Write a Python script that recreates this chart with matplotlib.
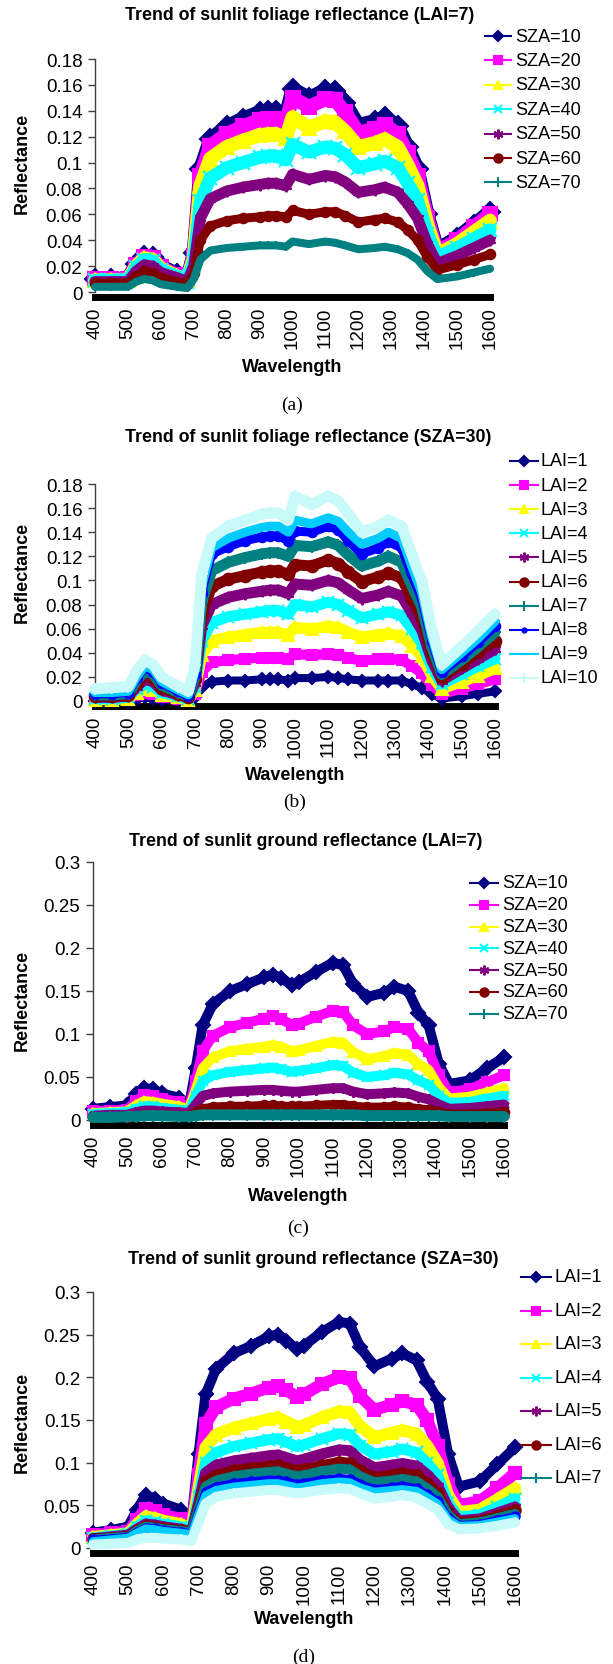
import matplotlib
matplotlib.use("Agg")
import matplotlib.pyplot as plt
from matplotlib.lines import Line2D
from matplotlib.ticker import FuncFormatter

plt.rcParams['font.family'] = ['Liberation Sans', 'DejaVu Sans']

# ---------------- data ----------------
wavelength = [400, 450, 500, 525, 550, 575, 600, 650, 680, 700, 720, 750, 800, 850, 900, 925, 950, 980,
              1000, 1050, 1100, 1130, 1160, 1200, 1250, 1280, 1320, 1350, 1380, 1410, 1440, 1500, 1550, 1600]
x_ticks = [400, 500, 600, 700, 800, 900, 1000, 1100, 1200, 1300, 1400, 1500, 1600]

sza_labels = ['SZA=10', 'SZA=20', 'SZA=30', 'SZA=40', 'SZA=50', 'SZA=60', 'SZA=70']
lai_labels = ['LAI=1', 'LAI=2', 'LAI=3', 'LAI=4', 'LAI=5', 'LAI=6', 'LAI=7', 'LAI=8', 'LAI=9', 'LAI=10']

# (a) sunlit foliage reflectance, LAI=7
a_sza10 = [.010, .010, .010, .022, .028, .027, .020, .014, .010, .030, .095, .118, .128, .134, .139, .140, .140, .137,
           .157, .150, .156, .155, .146, .129, .132, .135, .128, .112, .095, .060, .033, .042, .052, .062]
a_sza20 = [.010, .010, .010, .021, .027, .026, .019, .013, .009, .028, .090, .113, .122, .128, .133, .134, .134, .131,
           .150, .143, .149, .148, .139, .123, .126, .129, .122, .107, .090, .057, .031, .040, .050, .060]
a_sza30 = [.009, .009, .009, .020, .026, .025, .018, .012, .009, .026, .082, .103, .112, .117, .121, .122, .122, .119,
           .135, .127, .132, .131, .124, .112, .115, .118, .112, .098, .082, .052, .029, .037, .046, .055]
a_sza40 = [.009, .009, .009, .019, .025, .024, .017, .012, .008, .024, .070, .088, .096, .100, .104, .105, .105, .102,
           .114, .108, .112, .111, .106, .096, .099, .101, .096, .084, .071, .045, .027, .034, .041, .048]
a_sza50 = [.008, .008, .008, .016, .021, .020, .015, .011, .008, .020, .057, .072, .078, .081, .083, .084, .084, .082,
           .091, .087, .090, .089, .085, .077, .079, .081, .077, .068, .057, .037, .022, .028, .034, .040]
a_sza60 = [.007, .007, .007, .012, .016, .015, .011, .008, .006, .015, .040, .051, .055, .057, .058, .059, .059, .058,
           .063, .060, .062, .062, .059, .054, .056, .057, .054, .048, .040, .027, .017, .021, .025, .029]
a_sza70 = [.004, .004, .004, .008, .010, .009, .006, .004, .003, .010, .025, .032, .034, .035, .036, .036, .036, .035,
           .039, .037, .039, .038, .036, .033, .034, .035, .033, .030, .025, .016, .010, .012, .015, .018]

# (b) sunlit foliage reflectance, SZA=30
b_lai1 = [.000, .000, .000, .002, .003, .002, .001, .000, .000, .003, .012, .016, .017, .017, .018, .018, .018, .017,
          .019, .019, .020, .019, .018, .017, .017, .017, .017, .014, .011, .006, .002, .004, .006, .008]
b_lai2 = [.001, .001, .001, .005, .007, .006, .003, .002, .001, .006, .024, .032, .034, .035, .036, .036, .036, .035,
          .039, .038, .039, .038, .036, .033, .035, .035, .034, .029, .023, .013, .006, .010, .014, .018]
b_lai3 = [.001, .001, .002, .007, .010, .009, .005, .003, .001, .009, .038, .050, .053, .055, .057, .057, .057, .055,
          .061, .060, .062, .061, .057, .053, .055, .056, .054, .046, .037, .021, .010, .016, .021, .027]
b_lai4 = [.002, .002, .003, .010, .014, .012, .007, .004, .002, .012, .050, .065, .070, .072, .074, .075, .075, .072,
          .080, .078, .082, .080, .075, .069, .072, .074, .071, .060, .048, .028, .014, .022, .029, .035]
b_lai5 = [.003, .003, .004, .012, .018, .016, .009, .005, .003, .015, .062, .080, .086, .089, .091, .092, .092, .089,
          .097, .096, .100, .098, .092, .085, .088, .091, .087, .073, .059, .034, .017, .027, .035, .043]
b_lai6 = [.004, .004, .005, .015, .022, .019, .011, .006, .003, .018, .072, .095, .101, .104, .107, .108, .108, .105,
          .113, .112, .117, .114, .107, .099, .103, .106, .102, .085, .069, .040, .020, .031, .041, .050]
b_lai7 = [.005, .005, .006, .017, .025, .022, .013, .007, .004, .020, .082, .108, .115, .119, .122, .123, .123, .120,
          .129, .128, .132, .129, .121, .112, .116, .120, .115, .096, .078, .045, .022, .034, .045, .057]
b_lai8 = [.006, .006, .007, .019, .028, .024, .015, .008, .004, .022, .090, .122, .128, .133, .136, .137, .137, .133,
          .141, .140, .145, .142, .133, .122, .127, .132, .127, .105, .085, .050, .024, .037, .049, .062]
b_lai9 = [.007, .007, .008, .020, .029, .026, .016, .009, .005, .025, .095, .127, .135, .140, .144, .145, .145, .140,
          .150, .147, .152, .149, .140, .130, .135, .140, .135, .112, .090, .053, .026, .040, .052, .066]
b_lai10 = [.010, .011, .012, .025, .034, .030, .020, .012, .008, .030, .105, .135, .145, .150, .155, .156, .156, .150,
           .170, .163, .170, .166, .155, .140, .145, .150, .145, .122, .100, .060, .030, .045, .058, .072]

# (c) sunlit ground reflectance, LAI=7
c_sza10 = [.013, .015, .017, .030, .037, .036, .031, .026, .016, .060, .110, .135, .150, .158, .166, .169, .165, .157,
           .160, .172, .183, .180, .158, .143, .148, .155, .150, .125, .110, .065, .042, .046, .060, .073]
c_sza20 = [.010, .011, .012, .022, .029, .028, .025, .021, .014, .045, .080, .098, .108, .113, .118, .121, .117, .111,
           .112, .120, .127, .126, .110, .100, .103, .108, .106, .090, .080, .052, .032, .036, .044, .052]
c_sza30 = [.008, .009, .010, .017, .022, .021, .019, .016, .012, .035, .060, .073, .080, .083, .085, .087, .085, .080,
           .081, .086, .091, .090, .079, .071, .074, .078, .076, .065, .058, .038, .025, .027, .032, .037]
c_sza40 = [.007, .008, .009, .013, .016, .016, .014, .012, .010, .028, .045, .052, .056, .058, .060, .061, .059, .056,
           .057, .060, .064, .063, .055, .050, .052, .055, .053, .046, .041, .028, .020, .021, .025, .028]
c_sza50 = [.005, .006, .006, .009, .011, .011, .010, .009, .008, .018, .028, .031, .033, .034, .035, .035, .034, .033,
           .033, .035, .037, .037, .033, .030, .031, .032, .031, .027, .024, .018, .013, .014, .016, .018]
c_sza60 = [.003, .003, .004, .005, .006, .006, .006, .005, .005, .009, .013, .015, .016, .016, .017, .017, .016, .016,
           .016, .017, .018, .018, .016, .015, .015, .016, .015, .013, .012, .009, .007, .007, .008, .009]
c_sza70 = [.003, .003, .004, .004, .005, .005, .005, .004, .004, .005, .006, .006, .006, .006, .006, .006, .006, .006,
           .006, .006, .006, .006, .006, .005, .005, .005, .005, .005, .005, .005, .004, .004, .004, .004]

# (d) sunlit ground reflectance, SZA=30
d_lai1 = [.018, .021, .025, .045, .062, .058, .052, .045, .033, .110, .180, .210, .228, .237, .248, .250, .243, .233,
          .237, .253, .265, .263, .235, .213, .222, .228, .220, .195, .175, .110, .072, .078, .098, .118]
d_lai2 = [.015, .017, .019, .033, .046, .043, .039, .034, .026, .085, .145, .165, .175, .181, .188, .190, .185, .177,
          .180, .192, .200, .199, .178, .162, .168, .172, .168, .150, .120, .075, .050, .055, .070, .088]
d_lai3 = [.013, .015, .017, .028, .037, .035, .032, .028, .022, .070, .118, .133, .141, .146, .151, .153, .148, .142,
          .144, .153, .160, .159, .143, .130, .135, .138, .134, .120, .100, .062, .042, .045, .057, .070]
d_lai4 = [.012, .014, .016, .025, .032, .030, .028, .025, .020, .060, .100, .112, .119, .123, .127, .128, .124, .119,
          .121, .128, .134, .133, .120, .110, .113, .116, .112, .100, .085, .053, .036, .039, .048, .058]
d_lai5 = [.011, .013, .015, .022, .028, .027, .025, .022, .019, .052, .088, .097, .102, .105, .108, .109, .106, .102,
          .104, .110, .115, .114, .103, .094, .097, .099, .096, .086, .073, .047, .032, .034, .041, .048]
d_lai6 = [.011, .012, .014, .021, .026, .025, .023, .021, .018, .048, .078, .086, .091, .094, .096, .097, .094, .091,
          .092, .097, .101, .100, .091, .083, .086, .088, .085, .076, .065, .042, .030, .032, .038, .044]
d_lai7 = [.010, .012, .013, .020, .025, .024, .022, .020, .018, .045, .072, .079, .084, .087, .089, .090, .087, .084,
          .085, .090, .093, .092, .084, .077, .079, .081, .078, .070, .060, .039, .028, .030, .035, .040]
d_lai8 = [.010, .011, .013, .019, .024, .023, .021, .019, .017, .043, .066, .072, .076, .078, .080, .080, .078, .075,
          .076, .080, .082, .081, .075, .069, .071, .073, .070, .063, .055, .036, .027, .028, .033, .037]
d_lai9 = [.008, .010, .012, .018, .023, .022, .020, .018, .016, .040, .062, .068, .072, .074, .076, .076, .074, .071,
          .072, .076, .078, .077, .071, .066, .068, .069, .067, .060, .052, .034, .026, .027, .031, .035]
d_lai10 = [.004, .005, .006, .010, .012, .012, .011, .010, .008, .030, .052, .060, .064, .066, .068, .068, .066, .064,
           .065, .068, .070, .069, .064, .058, .060, .062, .059, .052, .045, .028, .022, .023, .026, .030]

# ---------------- style ----------------
colors = ['#000080', '#FF00FF', '#FFFF00', '#00FFFF', '#800080', '#800000', '#008080', '#0000FF', '#00CCFF', '#C8FAFA']
markers = ['D', 's', '^', 'x', (6, 2, 0), 'o', '+', 'o', '_', '+']
msizes = [5, 6, 6, 6, 7, 6, 7, 3, 7, 7]

FW, FH = 613.0, 1665.0
fig = plt.figure(figsize=(6.13, 16.65), dpi=100)


def fx(x):
    return x / FW


def fy(y):
    return 1 - y / FH


panels = [
    dict(series=[a_sza10, a_sza20, a_sza30, a_sza40, a_sza50, a_sza60, a_sza70], labels=sza_labels, nleg=7,
         box=(95, 490, 60, 293), ymax=0.18, ystep=0.02, bw=[14, 14, 14, 13, 11, 9, 8],
         title='Trend of sunlit foliage reflectance (LAI=7)', tx=300, ty=16, yl=163, xl=368, cap='(a)', capy=405,
         leg=(485, 511, 515, 37, 24.4)),
    dict(series=[b_lai1, b_lai2, b_lai3, b_lai4, b_lai5, b_lai6, b_lai7, b_lai8, b_lai9, b_lai10], labels=lai_labels,
         nleg=10, box=(95, 495, 485, 702), ymax=0.18, ystep=0.02, bw=[8, 10, 11, 11, 11, 11, 11, 9, 9, 11],
         title='Trend of sunlit foliage reflectance (SZA=30)', tx=308, ty=438, yl=572, xl=775, cap='(b)', capy=802,
         leg=(510, 538, 541, 462, 24.1)),
    dict(series=[c_sza10, c_sza20, c_sza30, c_sza40, c_sza50, c_sza60, c_sza70], labels=sza_labels, nleg=7,
         box=(93, 504, 863, 1121), ymax=0.3, ystep=0.05, bw=[10, 10, 10, 10, 10, 9, 11],
         title='Trend of sunlit ground reflectance (LAI=7)', tx=306, ty=842, yl=1000, xl=1197, cap='(c)', capy=1228,
         leg=(470, 498, 502, 884, 21.8)),
    dict(series=[d_lai1, d_lai2, d_lai3, d_lai4, d_lai5, d_lai6, d_lai7, d_lai8, d_lai9, d_lai10], labels=lai_labels,
         nleg=7, box=(93, 515, 1293, 1549), ymax=0.3, ystep=0.05, bw=[10, 12, 12, 11, 11, 10, 10, 8, 8, 10],
         title='Trend of sunlit ground reflectance (SZA=30)', tx=313, ty=1260, yl=1422, xl=1620, cap='(d)', capy=1657,
         leg=(521, 551, 555, 1278, 33.5)),
]

for p in panels:
    left, right, top, bottom = p['box']
    ax = fig.add_axes([fx(left), fy(bottom), (right - left) / FW, (bottom - top) / FH])
    for vals, col, bw, mk in zip(p['series'], colors, p['bw'], markers):
        ax.plot(wavelength, vals, color=col, lw=bw * 0.72, solid_joinstyle='round', solid_capstyle='round',
                marker=mk, ms=bw * 0.72 * 1.05, mfc=col, mec=col, mew=1.5,
                zorder=3, clip_on=False)
    ax.set_xlim(400, 1600)
    ax.set_ylim(0, p['ymax'])
    ax.set_xticks(x_ticks)
    n = int(round(p['ymax'] / p['ystep']))
    ax.set_yticks([p['ystep'] * i for i in range(n + 1)])
    ax.yaxis.set_major_formatter(FuncFormatter(lambda v, pos: f"{v:g}"))
    for s in ('top', 'right'):
        ax.spines[s].set_visible(False)
    ax.spines['left'].set_color('#404040')
    ax.spines['left'].set_linewidth(1.0)
    ax.spines['bottom'].set_color('black')
    ax.spines['bottom'].set_linewidth(5.0)
    ax.spines['bottom'].set_position(('outward', 3.5))
    ax.spines['bottom'].set_zorder(1)
    ax.tick_params(axis='x', length=0, pad=7, labelrotation=90, labelsize=13.5)
    ax.tick_params(axis='y', length=5, width=1, color='#404040', direction='out', pad=4, labelsize=13.5)
    ax.set_facecolor('none')

    fig.text(fx(p['tx']), fy(p['ty']), p['title'], ha='center', va='center', fontsize=12.8, fontweight='bold')
    fig.text(fx(22), fy(p['yl']), 'Reflectance', rotation=90, ha='center', va='center', fontsize=13,
             fontweight='bold')
    fig.text(fx((left + right) / 2), fy(p['xl']), 'Wavelength', ha='center', va='center', fontsize=13,
             fontweight='bold')
    fig.text(fx((left + right) / 2), fy(p['capy']), p['cap'], ha='center', va='center', fontsize=14,
             family=['Liberation Serif', 'DejaVu Serif'])

    x0, x1, xt, row0, pitch = p['leg']
    for i in range(p['nleg']):
        yy = fy(row0 + i * pitch)
        ln = Line2D([fx(x0), fx((x0 + x1) / 2), fx(x1)], [yy, yy, yy], transform=fig.transFigure,
                    color=colors[i], lw=1.5, marker=markers[i], markevery=[1], ms=msizes[i],
                    mfc=colors[i], mec=colors[i], mew=1.5)
        fig.add_artist(ln)
        fig.text(fx(xt), yy, p['labels'][i], ha='left', va='center', fontsize=13)

fig.savefig('out.png', dpi=100)
